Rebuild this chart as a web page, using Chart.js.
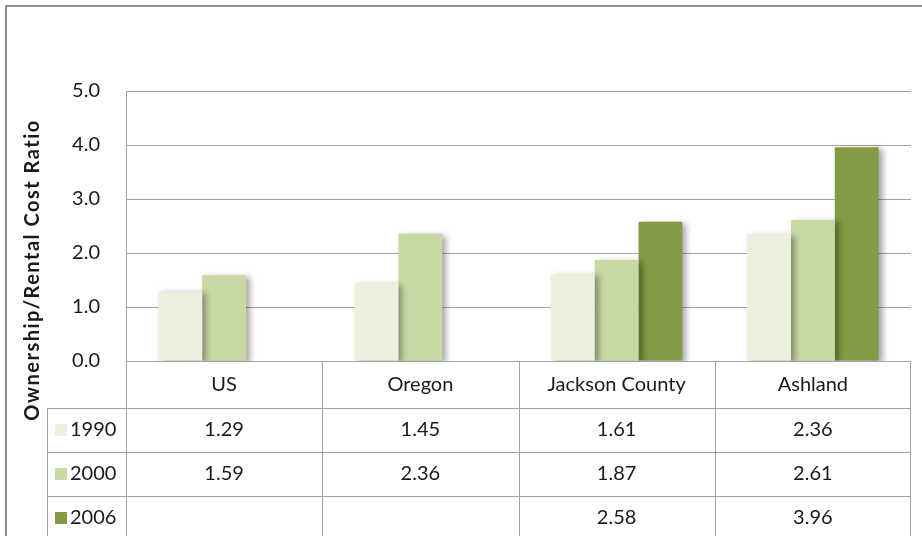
<!DOCTYPE html>
<html lang="en">
<head>
    <meta charset="UTF-8">
    <title>Ownership/Rental Cost Ratio</title>
    <script src="https://cdn.jsdelivr.net/npm/chart.js"></script>
    <style>
        body {
            margin: 0;
            background: white;
        }
        .wrap {
            width: 922px;
            height: 536px;
        }
    </style>
</head>
<body>
    <div class="wrap"><canvas id="chart1"></canvas></div>

    <script>
        const places = ['US', 'Oregon', 'Jackson County', 'Ashland'];
        const years = ['1990', '2000', '2006'];
        const values1990 = [1.29, 1.45, 1.61, 2.36];
        const values2000 = [1.59, 2.36, 1.87, 2.61];
        const values2006 = [null, null, 2.58, 3.96];
        const yearColors = ['#ebf1de', '#c9d9a4', '#829b44'];

        const FONT = 'Lato, "Open Sans", sans-serif';
        const LINE = '#a3a3a3';
        const TEXT = '#1a1a1a';

        // drop shadow on the bars, like the spreadsheet original
        const barShadow = {
            id: 'barShadow',
            beforeDatasetsDraw(chart) {
                const ctx = chart.ctx;
                ctx.save();
                ctx.shadowColor = 'rgba(0,0,0,0.35)';
                ctx.shadowBlur = 6;
                ctx.shadowOffsetX = 4;
                ctx.shadowOffsetY = 2;
            },
            afterDatasetsDraw(chart) {
                chart.ctx.restore();
            }
        };

        // data table under the plot + outer frame + rotated axis title
        const dataTable = {
            id: 'dataTable',
            afterDraw(chart) {
                const ctx = chart.ctx;
                const area = chart.chartArea;
                const x = chart.scales.x;
                const half = (x.getPixelForValue(1) - x.getPixelForValue(0)) / 2;
                const top = area.bottom;
                const rows = [top, top + 47, top + 91, top + 135, top + 179];
                const legendLeft = 47;

                ctx.save();
                ctx.strokeStyle = LINE;
                ctx.lineWidth = 1;
                ctx.beginPath();
                // horizontal lines
                ctx.moveTo(area.left, rows[0] + 0.5);
                ctx.lineTo(area.right, rows[0] + 0.5);
                for (let r = 1; r < rows.length - 1; r++) {
                    ctx.moveTo(legendLeft, rows[r] + 0.5);
                    ctx.lineTo(area.right, rows[r] + 0.5);
                }
                // vertical lines
                ctx.moveTo(legendLeft + 0.5, rows[1]);
                ctx.lineTo(legendLeft + 0.5, rows[4]);
                places.forEach((p, i) => {
                    const l = Math.round(x.getPixelForValue(i) - half) + 0.5;
                    ctx.moveTo(l, rows[0]);
                    ctx.lineTo(l, rows[4]);
                });
                ctx.moveTo(Math.round(area.right) - 0.5, rows[0]);
                ctx.lineTo(Math.round(area.right) - 0.5, rows[4]);
                ctx.stroke();

                ctx.fillStyle = TEXT;
                ctx.font = '20px ' + FONT;
                ctx.textAlign = 'center';
                ctx.textBaseline = 'middle';
                places.forEach((p, i) => {
                    ctx.fillText(p, x.getPixelForValue(i), (rows[0] + rows[1]) / 2);
                });

                const series = [values1990, values2000, values2006];
                series.forEach((vals, s) => {
                    const cy = (rows[s + 1] + rows[s + 2]) / 2;
                    vals.forEach((v, i) => {
                        if (v !== null) {
                            ctx.textAlign = 'center';
                            ctx.fillText(v.toFixed(2), x.getPixelForValue(i), cy);
                        }
                    });
                    ctx.fillStyle = yearColors[s];
                    ctx.fillRect(legendLeft + 8, cy - 6, 12, 12);
                    ctx.fillStyle = TEXT;
                    ctx.textAlign = 'left';
                    ctx.fillText(years[s], legendLeft + 23, cy);
                });

                // axis title
                ctx.save();
                ctx.translate(33, 270);
                ctx.rotate(-Math.PI / 2);
                ctx.font = 'bold 20px ' + FONT;
                ctx.letterSpacing = '1.5px';
                ctx.textAlign = 'center';
                ctx.fillText('Ownership/Rental Cost Ratio', 0, 0);
                ctx.restore();

                // outer frame
                ctx.strokeStyle = '#8f8f8f';
                ctx.lineWidth = 2;
                ctx.strokeRect(6, 6, 1000, 1000);
                ctx.restore();
            }
        };

        const ctx = document.getElementById('chart1').getContext('2d');
        const chart1 = new Chart(ctx, {
            type: 'bar',
            data: {
                labels: places,
                datasets: [
                    { label: years[0], data: values1990, backgroundColor: yearColors[0] },
                    { label: years[1], data: values2000, backgroundColor: yearColors[1] },
                    { label: years[2], data: values2006, backgroundColor: yearColors[2] }
                ]
            },
            options: {
                responsive: true,
                maintainAspectRatio: false,
                animation: false,
                layout: {
                    padding: { top: 91, right: 11, bottom: 175, left: 0 }
                },
                datasets: {
                    bar: {
                        categoryPercentage: 0.67,
                        barPercentage: 1,
                        borderWidth: 0
                    }
                },
                scales: {
                    x: {
                        display: false
                    },
                    y: {
                        min: 0,
                        max: 5,
                        afterFit(scale) { scale.width = 126; },
                        ticks: {
                            stepSize: 1,
                            padding: 26,
                            color: TEXT,
                            font: { family: FONT, size: 20 },
                            callback: (v) => v.toFixed(1)
                        },
                        grid: {
                            color: LINE,
                            drawTicks: false
                        },
                        border: {
                            color: LINE
                        }
                    }
                },
                plugins: {
                    legend: { display: false },
                    tooltip: { enabled: false }
                }
            },
            plugins: [barShadow, dataTable]
        });
    </script>
</body>
</html>
